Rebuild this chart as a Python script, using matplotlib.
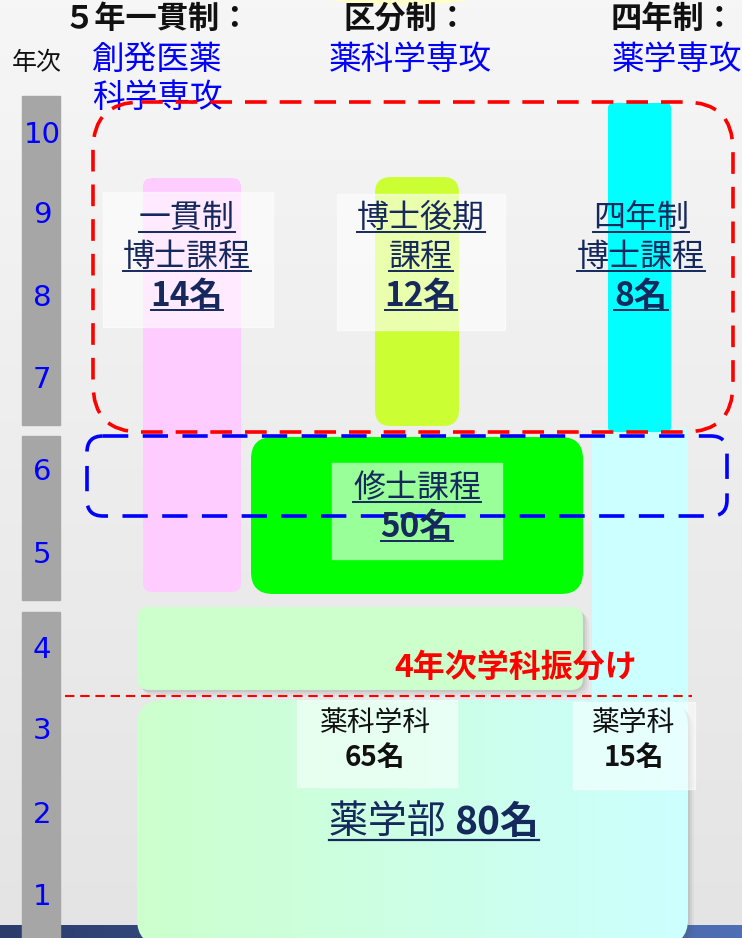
import numpy as np
import matplotlib.pyplot as plt
from matplotlib.patches import FancyBboxPatch, Rectangle, Ellipse
from matplotlib.colors import to_rgb

plt.rcParams['font.family'] = ['Noto Sans CJK JP', 'DejaVu Sans']

# ---- data ----
years = [10, 9, 8, 7, 6, 5, 4, 3, 2, 1]
systems = ["５年一貫制：", "区分制：", "四年制："]
majors = [["創発医薬", "科学専攻"], ["薬科学専攻"], ["薬学専攻"]]
doctor_names = [["一貫制", "博士課程"], ["博士後期", "課程"], ["四年制", "博士課程"]]
doctor_counts = [14, 12, 8]
master_name = "修士課程"
master_count = 50
dept_names = ["薬科学科", "薬学科"]
dept_counts = [65, 15]
faculty_name = "薬学部"
faculty_count = 80
split_label = "4年次学科振分け"

# ---- layout (pixel coords of the 742x938 canvas) ----
W, H = 742, 938
year_y = [135, 215, 298, 380, 472, 555, 650, 731, 815, 897]
grey_segments = [(96, 425), (436, 600), (612, 945)]
col_x = [157, 406, 673]
doc_x = [187, 421, 641]
navy = "#16295c"

fig = plt.figure(figsize=(W / 100, H / 100), dpi=100)
ax = fig.add_axes([0, 0, 1, 1])
ax.set_xlim(0, W)
ax.set_ylim(H, 0)
ax.axis('off')
renderer = fig.canvas.get_renderer()

# background
bg = np.linspace(0, 1, 100)[:, None]
top, bot = np.array(to_rgb("#f6f6f6")), np.array(to_rgb("#e4e4e4"))
ax.imshow(top + (bot - top) * bg[..., None], extent=(0, W, H, 0), aspect='auto', zorder=0)
ax.add_patch(Ellipse((400, -25), 240, 60, color="#ffffcc", zorder=1))
band = np.linspace(0, 1, 100)[None, :]
left, right = np.array(to_rgb("#2c3d6c")), np.array(to_rgb("#4f6fb5"))
ax.imshow(left + (right - left) * band[..., None], extent=(0, W, H, 925), aspect='auto', zorder=1)


def rbox(x0, y0, x1, y1, r, color, z, alpha=1.0, **kw):
    p = FancyBboxPatch((x0, y0), x1 - x0, y1 - y0,
                       boxstyle=f"round,pad=0,rounding_size={r}",
                       fc=color, ec='none', alpha=alpha, zorder=z, **kw)
    ax.add_patch(p)
    return p


def shadow(x0, y0, x1, y1, r, z):
    for i, a in enumerate([0.10, 0.08, 0.06]):
        rbox(x0 + 2 + i * 2, y0 + 2 + i * 2, x1 + 2 + i * 2, y1 + 2 + i * 2, r, "#555555", z, alpha=a)


def put(x, y, s, size, color=navy, weight='normal', ul=False, ha='center', z=10, family=None):
    kw = {}
    if family:
        kw['family'] = family
    t = ax.text(x, y, s, fontsize=size, color=color, fontweight=weight,
                ha=ha, va='center', zorder=z, **kw)
    if ul:
        bb = t.get_window_extent(renderer).transformed(ax.transData.inverted())
        yb = max(bb.y0, bb.y1) - 2
        ax.plot([bb.x0, bb.x1], [yb, yb], color=color, lw=1.4, zorder=z)
    return t


# year column
for y0, y1 in grey_segments:
    ax.add_patch(Rectangle((22, y0), 38, y1 - y0, color="#a6a6a6", zorder=3))
for yr, yy in zip(years, year_y):
    put(42, yy, str(yr), 21, color="#0000ff", family='DejaVu Sans', z=4)
put(37, 63, "年次", 18, color="#111111")

# headers
for cx, s, m in zip(col_x, systems, majors):
    put(cx, 19, s, 22.5, color="#111111", weight='bold')
    for i, line in enumerate(m):
        put(cx + (4 if len(m) == 1 else 0), 60 + i * 38, line, 23.5, color="#0000ff", z=2)

# vertical course bars
rbox(143, 178, 241, 592, 9, "#ffccff", 2)
rbox(375, 177, 459, 426, 16, "#ccff33", 2)
rbox(592, 428, 688, 760, 4, "#ccffff", 2)
rbox(608, 103, 671, 432, 5, "#00ffff", 2)

# master box
rbox(251, 437, 583, 594, 22, "#00ff00", 3)
ax.add_patch(Rectangle((332, 463), 170, 96, color="#99ff99", zorder=4))

# 4th-year box and faculty box
shadow(137, 607, 583, 690, 12, 3)
rbox(137, 607, 583, 690, 12, "#ccffcc", 4)
shadow(137, 700, 688, 945, 26, 3)
fac = rbox(137, 700, 688, 945, 26, "none", 4)
grad = np.linspace(0, 1, 100)[None, :]
g0, g1 = np.array(to_rgb("#ccffcc")), np.array(to_rgb("#ccffff"))
im = ax.imshow(g0 + (g1 - g0) * grad[..., None], extent=(137, 688, 945, 700), aspect='auto', zorder=4)
im.set_clip_path(fac)

# translucent label boxes
ax.add_patch(Rectangle((103, 192), 170, 135, color="white", alpha=0.6, zorder=5))
ax.add_patch(Rectangle((337, 194), 168, 136, color="white", alpha=0.6, zorder=5))
ax.add_patch(Rectangle((297, 700), 160, 87, color="white", alpha=0.55, zorder=5))
ax.add_patch(Rectangle((573, 702), 122, 87, color="white", alpha=0.55, zorder=5))

# dashed outlines
red = FancyBboxPatch((93, 102), 640, 330, boxstyle="round,pad=0,rounding_size=48",
                     fc='none', ec="#ff0000", lw=2.6, ls=(0, (6, 3.6)), zorder=7)
ax.add_patch(red)
blue = FancyBboxPatch((87, 436), 640, 80, boxstyle="round,pad=0,rounding_size=16",
                      fc='none', ec="#0000ff", lw=2.6, ls=(0, (7, 4)), zorder=7)
ax.add_patch(blue)
ax.plot([65, 692], [696, 696], color="#ff0000", lw=1.5, ls=(0, (4.5, 2.8)), zorder=6)

# doctoral labels
for cx, names, n in zip(doc_x, doctor_names, doctor_counts):
    for i, line in enumerate(names):
        put(cx, 218 + i * 39, line, 23, ul=True)
    put(cx, 296, f"{n}名", 24, weight='bold', ul=True)

# master label
put(417, 488, master_name, 23, ul=True)
put(417, 527, f"{master_count}名", 24, weight='bold', ul=True)

# split label
put(516, 668, split_label, 23, color="#ff0000", weight='bold', z=6)

# department labels
dept_x = [375, 634]
for cx, name, n in zip(dept_x, dept_names, dept_counts):
    put(cx, 723, name, 20, color="#111111")
    put(cx, 758, f"{n}名", 20, color="#111111", weight='bold')

# faculty label: mixed weight, one underline
t1 = ax.text(0, 822, faculty_name + " ", fontsize=28, color=navy, ha='left', va='center', zorder=10)
t2 = ax.text(0, 822, f"{faculty_count}名", fontsize=28, color=navy, fontweight='bold',
             ha='left', va='center', zorder=10)
inv = ax.transData.inverted()
b1 = t1.get_window_extent(renderer).transformed(inv)
b2 = t2.get_window_extent(renderer).transformed(inv)
w1, w2 = b1.x1 - b1.x0, b2.x1 - b2.x0
x0 = 434 - (w1 + w2) / 2
t1.set_x(x0)
t2.set_x(x0 + w1)
yb = max(b1.y0, b1.y1) - 2
ax.plot([x0, x0 + w1 + w2], [yb, yb], color=navy, lw=1.6, zorder=10)

fig.savefig("out.png", dpi=100)
